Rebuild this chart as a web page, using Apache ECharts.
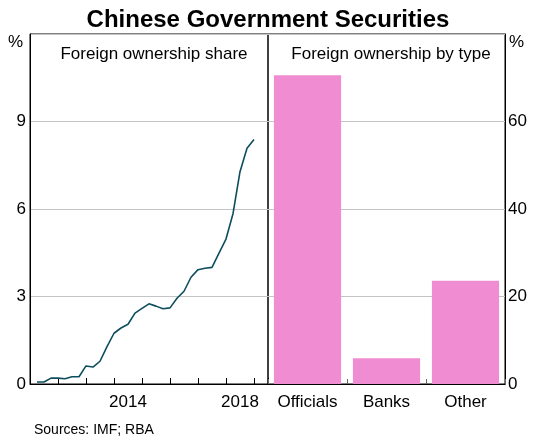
<!DOCTYPE html>
<html>
<head>
<meta charset="utf-8">
<script src="https://cdn.jsdelivr.net/npm/echarts@6/dist/echarts.min.js"></script>
<style>
html,body{margin:0;padding:0;background:#fff;}
#chart{width:536px;height:436px;}
</style>
</head>
<body>
<div id="chart"></div>
<script>
// Quarter-end dates (decimal years), 2011 Q1 .. 2018 Q4
var shareDates = [
  2011.25, 2011.5, 2011.75, 2012.0,
  2012.25, 2012.5, 2012.75, 2013.0,
  2013.25, 2013.5, 2013.75, 2014.0,
  2014.25, 2014.5, 2014.75, 2015.0,
  2015.25, 2015.5, 2015.75, 2016.0,
  2016.25, 2016.5, 2016.75, 2017.0,
  2017.25, 2017.5, 2017.75, 2018.0,
  2018.25, 2018.5, 2018.75, 2019.0
];
// Foreign ownership share, %
var shareValues = [
  0.07, 0.07, 0.20, 0.20,
  0.18, 0.25, 0.25, 0.62,
  0.58, 0.78, 1.28, 1.74,
  1.92, 2.05, 2.43, 2.59,
  2.75, 2.67, 2.58, 2.61,
  2.94, 3.18, 3.66, 3.92,
  3.97, 4.00, 4.49, 4.97,
  5.84, 7.28, 8.08, 8.38
];
var typeCategories = ['Officials', 'Banks', 'Other'];
var typeValues = [70.6, 5.9, 23.6];
var leftTicks = [0, 3, 6, 9];
var rightTicks = [0, 20, 40, 60];
var yearLabels = {'2014.5': '2014', '2018.5': '2018'};

var FONT = 'Liberation Sans, Arial, sans-serif';
var chart = echarts.init(document.getElementById('chart'), null, {renderer: 'canvas'});

var lineData = shareDates.map(function (d, i) { return [d, shareValues[i]]; });

var gridTop = 34, gridH = 350;
var option = {
  animation: false,
  textStyle: {fontFamily: FONT},
  title: [
    {text: 'Chinese Government Securities', left: 'center', top: 3,
     textStyle: {fontFamily: FONT, fontSize: 24, fontWeight: 'bold', color: '#000'}},
    {text: 'Foreign ownership share', left: 149, top: 41, textAlign: 'center',
     textStyle: {fontFamily: FONT, fontSize: 17, fontWeight: 'normal', color: '#000'}},
    {text: 'Foreign ownership by type', left: 386, top: 41, textAlign: 'center',
     textStyle: {fontFamily: FONT, fontSize: 17, fontWeight: 'normal', color: '#000'}},
    {text: 'Sources: IMF; RBA', left: 29, top: 418,
     textStyle: {fontFamily: FONT, fontSize: 14, fontWeight: 'normal', color: '#000'}}
  ],
  graphic: [
    {type: 'text', left: 8, top: 34, style: {text: '%', fontFamily: FONT, fontSize: 17, fill: '#000'}},
    {type: 'text', left: 509, top: 34, style: {text: '%', fontFamily: FONT, fontSize: 17, fill: '#000'}}
  ],
  grid: [
    {left: 30, top: gridTop, width: 238, height: gridH, show: true, borderColor: '#000', borderWidth: 1, backgroundColor: 'transparent'},
    {left: 268, top: gridTop, width: 237, height: gridH, show: true, borderColor: '#000', borderWidth: 1, backgroundColor: 'transparent'}
  ],
  xAxis: [
    {type: 'value', gridIndex: 0, min: 2011, max: 2019.5, interval: 1,
     axisLine: {show: true, lineStyle: {color: '#000', width: 1}},
     axisTick: {show: true, inside: true, length: 6, lineStyle: {color: '#000'}},
     axisLabel: {show: false}, splitLine: {show: false}},
    {type: 'value', gridIndex: 0, min: 2011, max: 2019.5, interval: 0.5, position: 'bottom',
     axisLine: {show: false}, axisTick: {show: false}, splitLine: {show: false},
     axisLabel: {show: true, margin: 10, fontFamily: FONT, fontSize: 17, color: '#000',
       formatter: function (v) { return yearLabels[String(v)] || ''; }}},
    {type: 'category', gridIndex: 1, data: typeCategories, boundaryGap: true,
     axisLine: {show: true, lineStyle: {color: '#000', width: 1}},
     axisTick: {show: true, inside: true, length: 5, lineStyle: {color: '#666'}},
     axisLabel: {margin: 10, fontFamily: FONT, fontSize: 17, color: '#000'},
     splitLine: {show: false}}
  ],
  yAxis: [
    {type: 'value', gridIndex: 0, min: 0, max: 12, interval: 3, position: 'left',
     axisLine: {show: true, lineStyle: {color: '#000'}}, axisTick: {show: false},
     splitLine: {show: true, lineStyle: {color: '#c4c4c4', width: 1}},
     axisLabel: {margin: 4, fontFamily: FONT, fontSize: 17, color: '#000',
       formatter: function (v) { return leftTicks.indexOf(v) >= 0 ? String(v) : ''; }}},
    {type: 'value', gridIndex: 1, min: 0, max: 80, interval: 20, position: 'right',
     axisLine: {show: true, lineStyle: {color: '#000'}}, axisTick: {show: false},
     splitLine: {show: true, lineStyle: {color: '#c4c4c4', width: 1}},
     axisLabel: {margin: 3, fontFamily: FONT, fontSize: 17, color: '#000',
       formatter: function (v) { return rightTicks.indexOf(v) >= 0 ? String(v) : ''; }}}
  ],
  series: [
    {type: 'line', xAxisIndex: 0, yAxisIndex: 0, data: lineData, showSymbol: false,
     lineStyle: {color: '#0d4d5d', width: 1.6}, z: 3},
    {type: 'bar', xAxisIndex: 2, yAxisIndex: 1, data: typeValues, barWidth: '85%',
     itemStyle: {color: '#f08cd2'}, z: 2}
  ]
};
chart.setOption(option);
</script>
</body>
</html>
